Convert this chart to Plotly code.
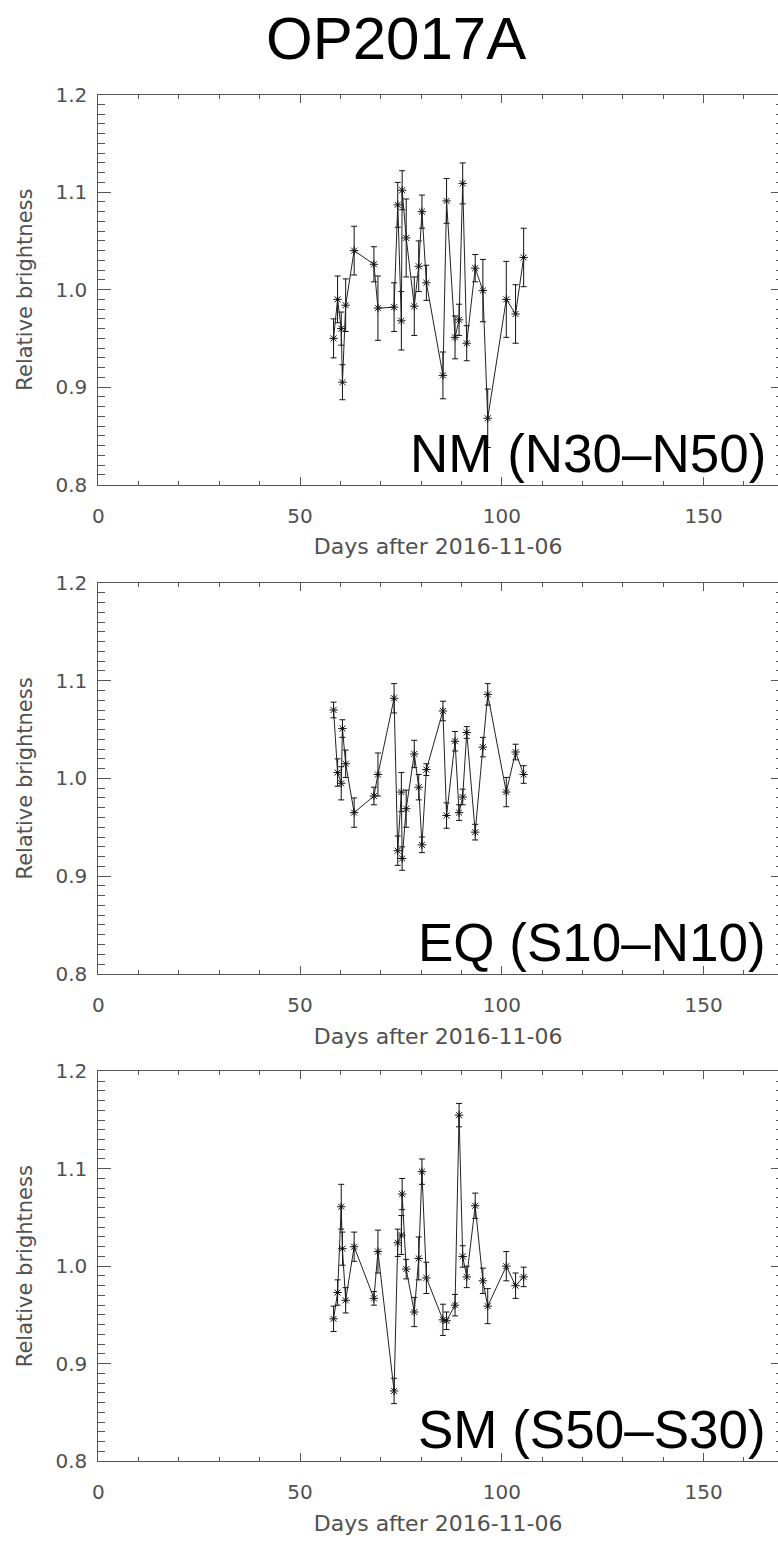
import plotly.graph_objects as go

# ---------------- data ----------------
days = [58.3, 59.3, 60.2, 60.5, 61.3, 63.4, 68.3, 69.3, 73.3, 74.2, 75.1, 75.3,
        76.3, 78.3, 79.4, 80.2, 81.3, 85.4, 86.3, 88.4, 89.4, 90.3, 91.3, 93.4,
        95.3, 96.5, 101.1, 103.4, 105.4]

nm_val = [0.950, 0.990, 0.960, 0.905, 0.984, 1.040, 1.026, 0.981, 0.982, 1.087,
          0.968, 1.102, 1.053, 0.983, 1.024, 1.080, 1.007, 0.912, 1.091, 0.951,
          0.969, 1.109, 0.945, 1.022, 0.999, 0.868, 0.990, 0.975, 1.033]
nm_err = [0.020, 0.024, 0.017, 0.018, 0.027, 0.025, 0.018, 0.033, 0.025, 0.023,
          0.030, 0.020, 0.040, 0.030, 0.026, 0.017, 0.018, 0.024, 0.023, 0.022,
          0.016, 0.021, 0.018, 0.014, 0.032, 0.030, 0.039, 0.030, 0.030]

eq_val = [1.070, 1.006, 0.995, 1.051, 1.015, 0.965, 0.982, 1.004, 1.082, 0.926,
          0.986, 0.918, 0.969, 1.025, 0.991, 0.932, 1.009, 1.069, 0.962, 1.038,
          0.965, 0.981, 1.047, 0.945, 1.032, 1.086, 0.986, 1.027, 1.004]
eq_err = [0.008, 0.014, 0.017, 0.009, 0.014, 0.015, 0.009, 0.022, 0.015, 0.015,
          0.020, 0.012, 0.019, 0.014, 0.013, 0.008, 0.006, 0.010, 0.013, 0.010,
          0.008, 0.008, 0.006, 0.008, 0.010, 0.011, 0.015, 0.008, 0.009]

sm_val = [0.946, 0.973, 1.061, 1.018, 0.965, 1.020, 0.967, 1.015, 0.872, 1.024,
          1.032, 1.074, 0.997, 0.953, 1.008, 1.097, 0.988, 0.945, 0.944, 0.960,
          1.155, 1.010, 0.989, 1.062, 0.985, 0.959, 1.000, 0.980, 0.989]
sm_err = [0.013, 0.013, 0.023, 0.017, 0.013, 0.015, 0.007, 0.022, 0.013, 0.014,
          0.020, 0.016, 0.010, 0.015, 0.022, 0.013, 0.016, 0.016, 0.009, 0.011,
          0.012, 0.011, 0.011, 0.013, 0.013, 0.018, 0.015, 0.013, 0.010]

panel_labels = ["NM (N30\u2013N50)", "EQ (S10\u2013N10)", "SM (S50\u2013S30)"]
title_text = "OP2017A"
x_title = "Days after 2016-11-06"
y_title = "Relative brightness"
x_ticks = [0, 50, 100, 150]
y_ticks = [0.8, 0.9, 1.0, 1.1, 1.2]

# ---------------- layout geometry ----------------
W, H = 778, 1544
left_px = 93
panels_px = [(84, 480), (580, 977), (1076, 1472)]  # (top, bottom)
x_max = (W - left_px) / 4.067  # data units visible up to the right edge

axis_col = "#555555"
text_col = "#505050"
tick_font = dict(family="DejaVu Sans", size=20, color=text_col)

fig = go.Figure()
series = [(nm_val, nm_err), (eq_val, eq_err), (sm_val, sm_err)]

for i, (vals, errs) in enumerate(series):
    n = "" if i == 0 else str(i + 1)
    fig.add_trace(go.Scatter(
        x=days, y=vals, mode="lines+markers",
        xaxis="x" + n, yaxis="y" + n,
        line=dict(color="#222222", width=1),
        marker=dict(symbol="asterisk-open", size=7,
                    line=dict(color="#111111", width=1), color="#111111"),
        error_y=dict(type="data", array=errs, visible=True,
                     color="#111111", thickness=1, width=3),
        showlegend=False, hoverinfo="skip",
    ))
    # empty trace to activate right-hand tick axis
    fig.add_trace(go.Scatter(x=[], y=[], xaxis="x" + n, yaxis="y" + str(i + 4),
                             showlegend=False, hoverinfo="skip"))

layout = dict(
    width=W, height=H,
    margin=dict(l=0, r=0, t=0, b=0),
    paper_bgcolor="white", plot_bgcolor="white",
    showlegend=False,
)

annotations = [dict(
    text=title_text, x=393 / W, y=1 - 27 / H, xref="paper", yref="paper",
    xanchor="center", yanchor="middle", showarrow=False,
    font=dict(family="Liberation Sans, Arial, Helvetica", size=60, color="black"),
)]

for i, (top, bot) in enumerate(panels_px):
    n = "" if i == 0 else str(i + 1)
    ydom = [1 - bot / H, 1 - top / H]
    layout["xaxis" + n] = dict(
        domain=[left_px / W, 1.0], range=[0, x_max], anchor="y" + n,
        tickmode="array", tickvals=x_ticks, ticktext=[str(t) for t in x_ticks],
        ticks="inside", ticklen=8, tickwidth=1, tickcolor=axis_col,
        minor=dict(dtick=10, ticks="inside", ticklen=4, tickcolor=axis_col, tickwidth=1),
        showline=True, linecolor=axis_col, linewidth=1, mirror="ticks",
        showgrid=False, zeroline=False,
        tickfont=tick_font, ticklabelstandoff=13,
        title=dict(text=x_title, font=dict(family="DejaVu Sans", size=22, color=text_col),
                   standoff=12),
    )
    layout["yaxis" + n] = dict(
        domain=ydom, range=[0.8, 1.2], anchor="x" + n,
        tickmode="array", tickvals=y_ticks, ticktext=["%.1f" % t for t in y_ticks],
        ticks="inside", ticklen=13, tickwidth=1, tickcolor=axis_col,
        minor=dict(dtick=0.01, ticks="inside", ticklen=7, tickcolor=axis_col, tickwidth=1),
        showline=True, linecolor=axis_col, linewidth=1, mirror=False,
        showgrid=False, zeroline=False,
        tickfont=tick_font, ticklabelstandoff=6,
        title=dict(text=y_title, font=dict(family="DejaVu Sans", size=21, color=text_col),
                   standoff=17),
    )
    layout["yaxis" + str(i + 4)] = dict(
        overlaying="y" + n, side="right", anchor="free", position=1.0,
        range=[0.8, 1.2], tickmode="array", tickvals=y_ticks, showticklabels=False,
        ticks="inside", ticklen=7, tickwidth=1, tickcolor=axis_col,
        minor=dict(dtick=0.01, ticks="inside", ticklen=2, tickcolor=axis_col, tickwidth=1),
        showline=False, showgrid=False, zeroline=False,
    )
    annotations.append(dict(
        text=panel_labels[i], x=768 / W, y=1 - (bot - 32) / H,
        xref="paper", yref="paper", xanchor="right", yanchor="middle",
        showarrow=False,
        font=dict(family="Liberation Sans, Arial", size=53, color="black"),
    ))

layout["annotations"] = annotations
fig.update_layout(**layout)
fig.write_html("out.html", config={"displayModeBar": False},
               post_script="document.body.style.margin='0px';")
